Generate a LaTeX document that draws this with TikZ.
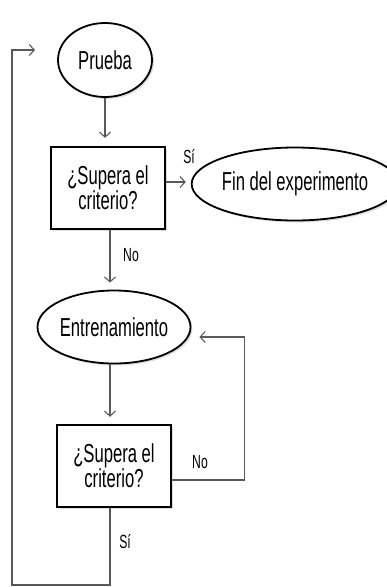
\documentclass[tikz,border=0pt]{standalone}
\usepackage{fontspec}
\setmainfont[FakeStretch=0.64]{Liberation Sans}
\usetikzlibrary{shapes.geometric, arrows.meta, positioning, shadows}

\begin{document}
\begin{tikzpicture}[x=1pt, y=-1pt,
        state/.style={ellipse, draw, line width=1.8pt, fill=white, inner sep=0pt,
            font=\fontsize{26}{25}\selectfont,
            drop shadow={opacity=0.25, shadow xshift=2pt, shadow yshift=-2pt}},
        decision/.style={rectangle, draw, line width=2.4pt, fill=white, align=center,
            minimum width=114pt, minimum height=82pt, inner sep=0pt,
            font=\fontsize{26}{25}\selectfont,
            drop shadow={opacity=0.25, shadow xshift=2pt, shadow yshift=-2pt}},
        line/.style={-{Straight Barb[length=5pt, width=11pt, line width=1.1pt]}, line width=1.2pt, draw=black!65},
        lbl/.style={font=\fontsize{19}{19}\selectfont}
    ]
        \useasboundingbox (0,0) rectangle (386,587);

        % Main column
        \node[state, minimum width=94pt, minimum height=74pt] (p) at (105,60) {Prueba};
        \node[decision] (b1) at (108,188) {¿Supera el\\criterio?};
        \node[state, minimum width=176pt, minimum height=73pt] (f) at (295,184) {Fin del experimento};
        \node[state, minimum width=142pt, minimum height=73pt] (e) at (114,327) {Entrenamiento};
        \node[decision] (b2) at (114,466) {¿Supera el\\criterio?};

        \node[lbl] (si1) at (189,157) {Sí};
        \node[lbl] (no1) at (131,255) {No};
        \node[lbl] (no2) at (200,462) {No};
        \node[lbl] (si2) at (125,542) {Sí};

        \coordinate (low) at (12,585);
        \coordinate (ret) at (35,50);

        \draw[line, shorten >=8pt] (p.south) -- (p.south |- b1.north);
        \draw[line, shorten >=5pt] ([yshift=6pt]b1.east) -- ([yshift=6pt]b1.east -| f.west);
        \draw[line, shorten >=7pt] ([xshift=2pt]b1.south) -- ([xshift=2pt]b1.south |- e.north);
        \draw[line, shorten >=7pt] ([xshift=-4pt]e.south) -- ([xshift=-4pt]e.south |- b2.north);
        % loops back
        \draw[line] ([yshift=-14pt]b2.east) -- ++(72,0) |- ([xshift=8pt,yshift=-10pt]e.east);
        \draw[line] ([xshift=-4pt]b2.south) |- (low) -- (low |- ret) -- (ret);
    \end{tikzpicture}
\end{document}
